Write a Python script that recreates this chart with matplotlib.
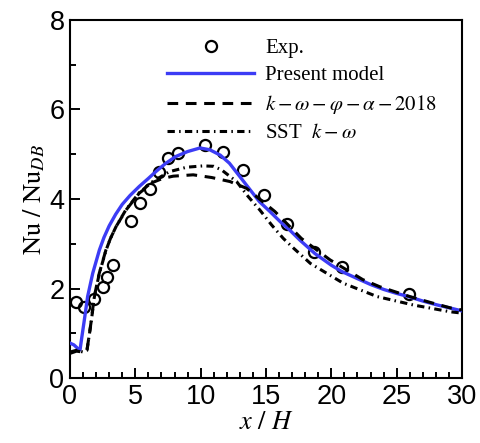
import matplotlib
matplotlib.use('Agg')
import matplotlib.pyplot as plt
from matplotlib.ticker import MultipleLocator

plt.rcParams['font.family'] = ['Liberation Sans', 'DejaVu Sans']
plt.rcParams['mathtext.fontset'] = 'stix'

# 实验数据
exp_x = [0.46, 1.10, 1.84, 2.55, 2.86, 3.26, 4.67, 5.36, 6.12, 6.81, 7.52, 8.24,
         10.35, 11.68, 13.21, 14.84, 16.58, 18.67, 20.79, 25.96]
exp_y = [1.70, 1.59, 1.76, 2.04, 2.25, 2.52, 3.50, 3.90, 4.23, 4.60, 4.91, 5.02,
         5.21, 5.06, 4.65, 4.09, 3.44, 2.82, 2.47, 1.88]

# Present model
pm_x = [0, 0.3, 0.6, 0.77, 0.9, 1.1, 1.35, 1.74, 2.25, 2.6, 3.0, 3.5, 4.0, 4.6,
        5.3, 6.0, 6.6, 7.3, 8.1, 9.0, 9.95, 10.7, 11.5, 12.2, 13.0, 13.8, 14.5,
        15.3, 16.1, 16.8, 17.6, 18.75, 20.0, 20.8, 22.0, 23.0, 24.0, 25.0, 25.9,
        27.0, 28.0, 29.0, 30.0]
pm_y = [0.78, 0.74, 0.66, 0.63, 0.90, 1.30, 1.82, 2.34, 2.86, 3.14, 3.40, 3.66,
        3.88, 4.08, 4.28, 4.46, 4.62, 4.79, 4.95, 5.06, 5.14, 5.10, 4.98, 4.80,
        4.50, 4.20, 3.94, 3.72, 3.49, 3.31, 3.08, 2.78, 2.52, 2.38, 2.22, 2.09,
        1.98, 1.89, 1.82, 1.72, 1.64, 1.57, 1.50]

# k-omega-phi-alpha-2018
ka_x = [0, 0.5, 1.0, 1.3, 1.6, 1.86, 2.24, 2.75, 3.1, 3.52, 4.28, 5.3, 6.33,
        7.1, 7.9, 9.43, 10.84, 12.24, 13.5, 14.5, 15.68, 16.7, 17.7, 19.9, 22.4,
        23.7, 26.0, 27.8, 29.2, 30.0]
ka_y = [0.55, 0.60, 0.58, 0.62, 1.22, 1.82, 2.34, 2.86, 3.12, 3.38, 3.75, 4.13,
        4.37, 4.46, 4.51, 4.54, 4.48, 4.39, 4.24, 4.00, 3.72, 3.42, 3.12, 2.64,
        2.20, 2.04, 1.82, 1.67, 1.56, 1.52]

# SST k-omega
sst_x = [0, 0.5, 1.0, 1.3, 1.6, 1.86, 2.24, 2.75, 3.1, 3.52, 4.28, 5.3, 6.33,
         7.6, 8.93, 10.2, 11.0, 11.6, 12.75, 13.65, 14.54, 15.43, 16.32, 17.0,
         18.4, 20.9, 23.5, 26.3, 29.1, 30.0]
sst_y = [0.58, 0.62, 0.58, 0.62, 1.20, 1.80, 2.33, 2.85, 3.12, 3.38, 3.76, 4.14,
         4.39, 4.61, 4.71, 4.74, 4.73, 4.65, 4.39, 4.05, 3.75, 3.42, 3.12, 2.93,
         2.56, 2.12, 1.82, 1.63, 1.48, 1.45]

fig = plt.figure(figsize=(4.81, 4.43), dpi=100)
ax = fig.add_axes([0.1455, 0.1467, 0.815, 0.8082])

h_exp, = ax.plot(exp_x, exp_y, 'o', mfc='none', mec='black', ms=8, mew=1.6,
                 ls='none', zorder=2, label='Exp.')
h_pm, = ax.plot(pm_x, pm_y, color='#3c3cf5', lw=2.4, zorder=3,
                label='Present model')
h_ka, = ax.plot(ka_x, ka_y, color='black', lw=2.2, dashes=(3.5, 2.5), zorder=3,
                label=r'$k-\omega-\varphi-\alpha-2018$')
h_sst, = ax.plot(sst_x, sst_y, color='black', lw=2.2, dashes=(2.4, 1.4, 0.5, 1.4),
                 zorder=3, label=r'SST  $k-\omega$')

ax.set_xlim(0, 30)
ax.set_ylim(0, 8)
ax.xaxis.set_major_locator(MultipleLocator(5))
ax.xaxis.set_minor_locator(MultipleLocator(1))
ax.yaxis.set_major_locator(MultipleLocator(2))
ax.yaxis.set_minor_locator(MultipleLocator(1))
ax.tick_params(which='both', direction='in', labelsize=19.5, width=1.4,
               top=False, right=False, pad=4)
ax.tick_params(which='major', length=7)
ax.tick_params(which='minor', length=4.5)
for s in ax.spines.values():
    s.set_linewidth(1.5)

ax.set_xlabel(r'$x\ /\ H$', fontsize=19, labelpad=0)
ax.set_ylabel(r'$\mathrm{Nu}\ /\ \mathrm{Nu}_{DB}$', fontsize=19, labelpad=2)

leg = ax.legend(handles=[h_exp, h_pm, h_ka, h_sst], loc='upper right',
                bbox_to_anchor=(0.985, 1.0), frameon=False,
                prop={'family': 'Liberation Serif', 'size': 15},
                handlelength=4.15, handletextpad=0.55, labelspacing=0.36)

fig.savefig('out.png', dpi=100)
